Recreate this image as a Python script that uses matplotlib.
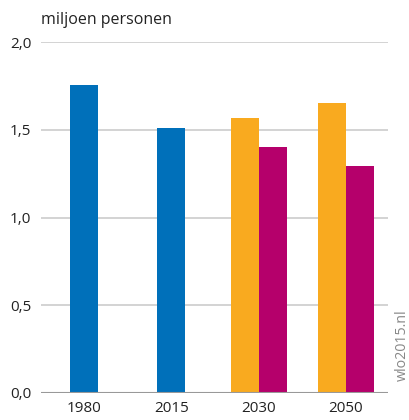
import matplotlib
matplotlib.use("Agg")
import matplotlib.pyplot as plt
import numpy as np

plt.rcParams["font.family"] = ["Open Sans", "DejaVu Sans"]

# ── Data ──────────────────────────────────────────────
years = ["1980", "2015", "2030", "2050"]
historic = [1.755, 1.508, None, None]          # blue bars
scenario_high = [None, None, 1.567, 1.652]     # orange bars
scenario_low = [None, None, 1.400, 1.293]      # magenta bars
yticks = [0.0, 0.5, 1.0, 1.5, 2.0]
ytick_labels = ["0,0", "0,5", "1,0", "1,5", "2,0"]

BLUE = "#0070BA"
ORANGE = "#F9AA1F"
MAGENTA = "#B5006B"

fig = plt.figure(figsize=(4.09, 4.20), dpi=100)
ax = fig.add_axes([41 / 409, 1 - 393 / 420, 347 / 409, 351 / 420])

x = np.arange(len(years))
w = 0.32
for i in range(len(years)):
    if historic[i] is not None:
        ax.bar(x[i], historic[i], width=w, color=BLUE, zorder=3)
    if scenario_high[i] is not None:
        ax.bar(x[i] - w / 2, scenario_high[i], width=w, color=ORANGE, zorder=3)
    if scenario_low[i] is not None:
        ax.bar(x[i] + w / 2, scenario_low[i], width=w, color=MAGENTA, zorder=3)

ax.set_xlim(-0.49, 3.48)
ax.set_ylim(0, 2.0)
ax.set_yticks(yticks)
ax.set_yticklabels(ytick_labels, fontsize=11, color="#222222")
ax.set_xticks(x)
ax.set_xticklabels(years, fontsize=11, color="#222222")
ax.tick_params(axis="both", length=0)
ax.tick_params(axis="y", pad=7)
ax.tick_params(axis="x", pad=6)

for yv in yticks[1:]:
    ax.axhline(yv, color="#CCCCCC", linewidth=1.2, zorder=1)
ax.axhline(0, color="#999999", linewidth=1.5, zorder=4)

for s in ax.spines.values():
    s.set_visible(False)

fig.text(41 / 409, 1 - 20 / 420, "miljoen personen", fontsize=11.5, color="#222222",
         ha="left", va="center")
fig.text(402 / 409, 1 - 345 / 420, "wlo2015.nl", fontsize=10.3, color="#888888",
         rotation=90, ha="center", va="center")

plt.savefig("out.png", dpi=100)
plt.close()
